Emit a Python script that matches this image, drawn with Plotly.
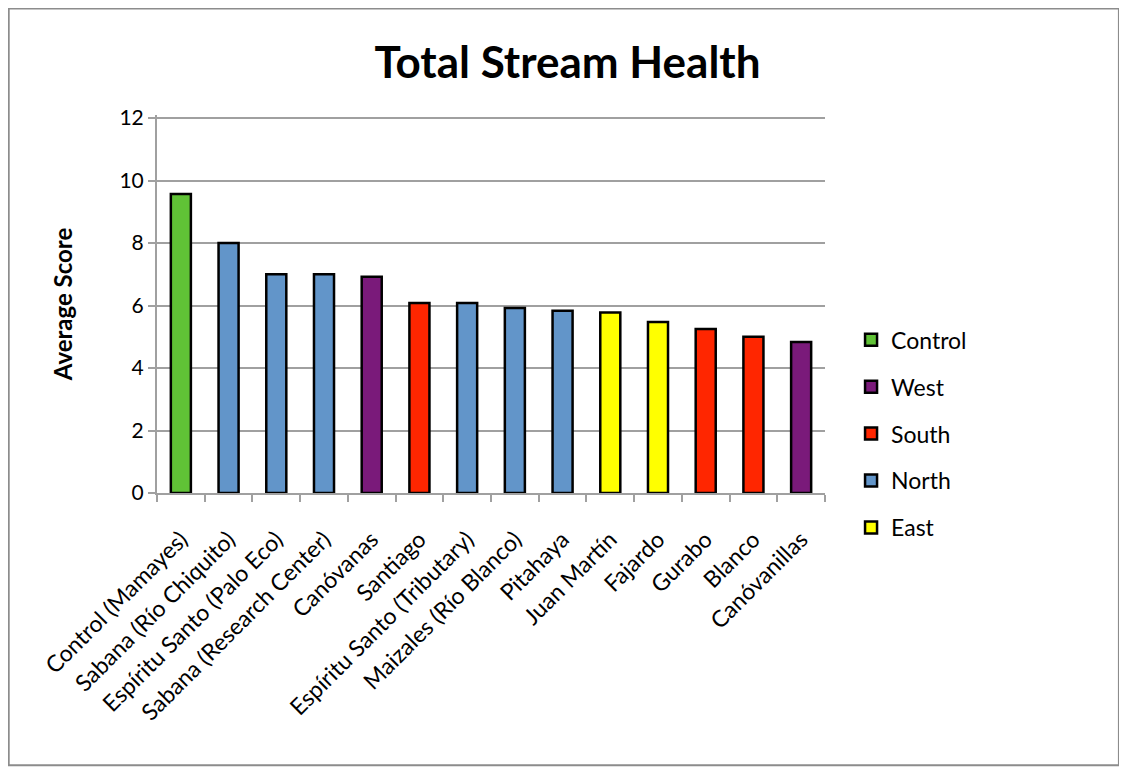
import plotly.graph_objects as go

# Data
sites = [
    "Control (Mamayes)", "Sabana (Río Chiquito)", "Espíritu Santo (Palo Eco)",
    "Sabana (Research Center)", "Canóvanas", "Santiago",
    "Espíritu Santo (Tributary)", "Maizales (Río Blanco)", "Pitahaya",
    "Juan Martín", "Fajardo", "Gurabo", "Blanco", "Canóvanillas",
]
scores = [9.57, 8.0, 7.0, 7.0, 6.92, 6.08, 6.08, 5.92, 5.83, 5.78, 5.47, 5.25, 5.0, 4.83]
regions = ["Control", "North", "North", "North", "West", "South",
           "North", "North", "North", "East", "East", "South", "South", "West"]

# Legend order and colours
region_order = ["Control", "West", "South", "North", "East"]
region_colors = {
    "Control": "#60c236",
    "West": "#7a1a7a",
    "South": "#ff2600",
    "North": "#6295c9",
    "East": "#ffff00",
}

GRID = "#a0a0a0"
FONT = "Lato, 'Open Sans', sans-serif"

fig = go.Figure()

for reg in region_order:
    xs = [s for s, r in zip(sites, regions) if r == reg]
    ys = [v for v, r in zip(scores, regions) if r == reg]
    fig.add_trace(go.Bar(
        x=xs, y=ys, name=reg, legendgroup=reg,
        width=0.42,
        marker=dict(color=region_colors[reg], line=dict(color="black", width=2.5)),
    ))

# page body has an 8px margin, so the figure is 8px smaller than the window
fig.update_layout(
    width=1119, height=763,
    margin=dict(l=149, r=302, t=107, b=278),
    paper_bgcolor="white", plot_bgcolor="white",
    barmode="overlay",
    font=dict(family=FONT, color="black"),
    title=dict(
        text="<b>Total Stream Health</b>",
        x=0.5, xanchor="center", xref="container",
        y=0.929, yanchor="middle",
        font=dict(size=44, family=FONT),
    ),
    legend=dict(
        x=1.039, y=0.462, xanchor="left", yanchor="top",
        font=dict(size=23),
        traceorder="grouped", tracegroupgap=14,
        bgcolor="rgba(0,0,0,0)",
    ),
    showlegend=True,
)

fig.update_xaxes(
    categoryorder="array", categoryarray=sites,
    tickangle=-45, tickfont=dict(size=23), ticklabelstandoff=22,
    showline=True, linecolor=GRID, linewidth=2,
    ticks="outside", tickson="boundaries", ticklen=7, tickcolor=GRID, tickwidth=2,
    showgrid=False,
)
fig.update_yaxes(
    range=[0, 12.1], tickvals=[0, 2, 4, 6, 8, 10, 12],
    tickfont=dict(size=21),
    title=dict(text="<b>Average Score</b>", font=dict(size=24), standoff=40),
    showline=True, linecolor=GRID, linewidth=2,
    ticks="outside", ticklen=7, tickcolor=GRID, tickwidth=2,
    showgrid=True, gridcolor=GRID, gridwidth=2,
    zeroline=False,
)

# Outer chart border
fig.add_shape(
    type="rect", xref="paper", yref="paper",
    x0=-0.222, x1=1.44, y0=-0.72, y1=1.282,
    line=dict(color="#8c8c8c", width=2), fillcolor="rgba(0,0,0,0)",
    layer="below",
)

fig.write_html("out.html")
